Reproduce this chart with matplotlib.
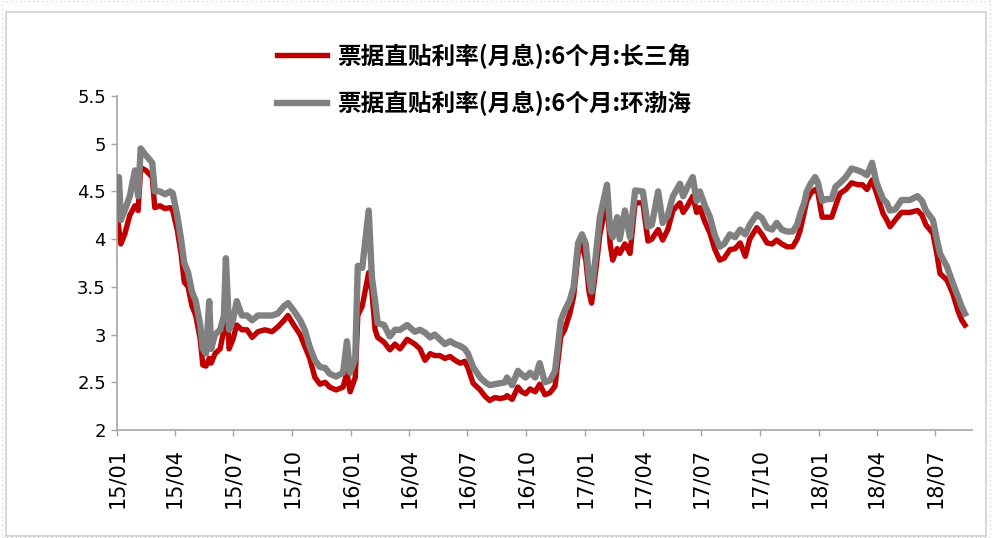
import matplotlib
matplotlib.use("Agg")
import matplotlib.pyplot as plt
import matplotlib.dates as mdates
from matplotlib.patches import Rectangle
import pandas as pd

# 票据直贴利率(月息):6个月, readings
dates = [
    "2015-01-01", "2015-01-04", "2015-01-07", "2015-01-13", "2015-01-21", "2015-01-29",
    "2015-02-03", "2015-02-07", "2015-02-15", "2015-02-25", "2015-03-01", "2015-03-09",
    "2015-03-17", "2015-03-25", "2015-03-29", "2015-04-05", "2015-04-11", "2015-04-16",
    "2015-04-22", "2015-04-28", "2015-05-04", "2015-05-11", "2015-05-15", "2015-05-20",
    "2015-05-25", "2015-05-28", "2015-06-03", "2015-06-11", "2015-06-17", "2015-06-20",
    "2015-06-25", "2015-07-01", "2015-07-07", "2015-07-15", "2015-07-23", "2015-07-31",
    "2015-08-09", "2015-08-20", "2015-08-31", "2015-09-09", "2015-09-19", "2015-09-25",
    "2015-10-04", "2015-10-14", "2015-10-21", "2015-10-29", "2015-11-06", "2015-11-14",
    "2015-11-22", "2015-11-29", "2015-12-09", "2015-12-20", "2015-12-26", "2015-12-31",
    "2016-01-08", "2016-01-12", "2016-01-19", "2016-01-29", "2016-02-03", "2016-02-08",
    "2016-02-12", "2016-02-22", "2016-03-02", "2016-03-10", "2016-03-18", "2016-03-29",
    "2016-04-10", "2016-04-18", "2016-04-26", "2016-05-04", "2016-05-11", "2016-05-19",
    "2016-05-27", "2016-06-04", "2016-06-12", "2016-06-20", "2016-06-27", "2016-07-02",
    "2016-07-10", "2016-07-21", "2016-07-29", "2016-08-05", "2016-08-13", "2016-08-21",
    "2016-08-29", "2016-09-01", "2016-09-09", "2016-09-18", "2016-09-24", "2016-09-30",
    "2016-10-07", "2016-10-15", "2016-10-22", "2016-10-30", "2016-11-07", "2016-11-15",
    "2016-11-19", "2016-11-24", "2016-11-30", "2016-12-08", "2016-12-14", "2016-12-21",
    "2016-12-27", "2017-01-02", "2017-01-07", "2017-01-11", "2017-01-18", "2017-01-24",
    "2017-02-04", "2017-02-09", "2017-02-13", "2017-02-20", "2017-02-24", "2017-03-04",
    "2017-03-12", "2017-03-20", "2017-04-01", "2017-04-09", "2017-04-15", "2017-04-25",
    "2017-05-02", "2017-05-10", "2017-05-18", "2017-05-29", "2017-06-03", "2017-06-10",
    "2017-06-18", "2017-06-24", "2017-06-29", "2017-07-07", "2017-07-15", "2017-07-22",
    "2017-07-30", "2017-08-06", "2017-08-15", "2017-08-23", "2017-08-31", "2017-09-08",
    "2017-09-15", "2017-09-26", "2017-10-04", "2017-10-12", "2017-10-20", "2017-10-27",
    "2017-11-04", "2017-11-12", "2017-11-21", "2017-11-28", "2017-12-03", "2017-12-09",
    "2017-12-13", "2017-12-19", "2017-12-26", "2017-12-30", "2018-01-06", "2018-01-13",
    "2018-01-21", "2018-01-27", "2018-02-03", "2018-02-12", "2018-02-21", "2018-03-03",
    "2018-03-10", "2018-03-17", "2018-03-25", "2018-04-01", "2018-04-11", "2018-04-17",
    "2018-04-22", "2018-04-30", "2018-05-10", "2018-05-23", "2018-06-04", "2018-06-11",
    "2018-06-17", "2018-06-28", "2018-07-04", "2018-07-09", "2018-07-20", "2018-07-29",
    "2018-08-06", "2018-08-12", "2018-08-17",
]

# 长三角
yrd = [
    4.30, 4.10, 3.95, 4.05, 4.25, 4.35, 4.30, 4.75, 4.72, 4.65, 4.33, 4.35,
    4.32, 4.33, 4.30, 4.10, 3.85, 3.55, 3.50, 3.30, 3.20, 2.95, 2.68, 2.67,
    2.75, 2.70, 2.80, 2.85, 3.05, 3.55, 2.85, 2.95, 3.10, 3.05, 3.05, 2.97,
    3.03, 3.05, 3.03, 3.08, 3.15, 3.20, 3.10, 3.00, 2.88, 2.75, 2.55, 2.48,
    2.50, 2.45, 2.42, 2.45, 2.60, 2.40, 2.55, 3.20, 3.30, 3.65, 3.45, 3.05,
    2.97, 2.92, 2.84, 2.90, 2.85, 2.95, 2.90, 2.85, 2.73, 2.80, 2.78, 2.78,
    2.75, 2.77, 2.73, 2.70, 2.72, 2.65, 2.49, 2.42, 2.35, 2.31, 2.34, 2.33,
    2.34, 2.36, 2.32, 2.45, 2.40, 2.38, 2.43, 2.40, 2.48, 2.37, 2.39, 2.46,
    2.70, 2.98, 3.05, 3.22, 3.40, 3.85, 3.95, 3.78, 3.45, 3.33, 3.70, 4.05,
    4.40, 3.95, 3.78, 3.90, 3.85, 3.95, 3.85, 4.38, 4.38, 3.98, 4.00, 4.10,
    3.99, 4.10, 4.30, 4.38, 4.28, 4.35, 4.45, 4.28, 4.33, 4.18, 4.06, 3.90,
    3.78, 3.80, 3.89, 3.90, 3.96, 3.82, 4.00, 4.12, 4.05, 3.96, 3.95, 3.99,
    3.95, 3.92, 3.92, 4.00, 4.10, 4.28, 4.40, 4.48, 4.52, 4.50, 4.23, 4.23,
    4.23, 4.35, 4.48, 4.52, 4.59, 4.57, 4.57, 4.52, 4.62, 4.48, 4.27, 4.20,
    4.13, 4.20, 4.28, 4.28, 4.30, 4.25, 4.15, 4.06, 3.85, 3.64, 3.57, 3.43,
    3.25, 3.15, 3.10,
]

# 环渤海
bohai = [
    4.55, 4.65, 4.20, 4.30, 4.45, 4.72, 4.45, 4.95, 4.88, 4.80, 4.50, 4.50,
    4.47, 4.50, 4.48, 4.25, 4.00, 3.75, 3.65, 3.45, 3.35, 3.10, 2.85, 2.80,
    3.35, 2.85, 3.00, 3.05, 3.20, 3.80, 3.05, 3.15, 3.35, 3.20, 3.20, 3.15,
    3.20, 3.20, 3.20, 3.22, 3.30, 3.33, 3.25, 3.15, 3.05, 2.87, 2.73, 2.66,
    2.65, 2.59, 2.56, 2.60, 2.93, 2.60, 2.75, 3.72, 3.70, 4.30, 3.60, 3.35,
    3.12, 3.10, 2.98, 3.05, 3.05, 3.10, 3.03, 3.05, 3.02, 2.97, 3.00, 2.95,
    2.90, 2.93, 2.90, 2.88, 2.85, 2.80, 2.66, 2.55, 2.50, 2.47, 2.48, 2.49,
    2.50, 2.55, 2.47, 2.62, 2.58, 2.55, 2.60, 2.55, 2.70, 2.50, 2.52, 2.62,
    2.85, 3.15, 3.25, 3.36, 3.50, 3.96, 4.05, 3.95, 3.60, 3.45, 3.85, 4.23,
    4.57, 4.10, 4.02, 4.23, 4.00, 4.30, 4.02, 4.51, 4.50, 4.13, 4.15, 4.50,
    4.17, 4.25, 4.45, 4.58, 4.45, 4.55, 4.65, 4.40, 4.50, 4.35, 4.23, 4.05,
    3.92, 3.95, 4.05, 4.02, 4.10, 4.05, 4.15, 4.26, 4.22, 4.12, 4.10, 4.17,
    4.10, 4.08, 4.08, 4.15, 4.27, 4.38, 4.50, 4.58, 4.65, 4.60, 4.40, 4.42,
    4.42, 4.55, 4.59, 4.65, 4.74, 4.72, 4.70, 4.67, 4.80, 4.59, 4.42, 4.38,
    4.30, 4.31, 4.41, 4.41, 4.45, 4.40, 4.30, 4.20, 4.00, 3.85, 3.71, 3.54,
    3.40, 3.29, 3.22,
]

labels = ["票据直贴利率(月息):6个月:长三角", "票据直贴利率(月息):6个月:环渤海"]
y_ticks = [2, 2.5, 3, 3.5, 4, 4.5, 5, 5.5]

x = pd.to_datetime(dates)

fig = plt.figure(figsize=(9.92, 5.38), dpi=100)
ax = fig.add_axes([117 / 992, 1 - 430 / 538, (972 - 117) / 992, (430 - 96) / 538])

ax.plot(x, yrd, color="#C00000", lw=3.9, label=labels[0], solid_joinstyle="round", zorder=2)
ax.plot(x, bohai, color="#808080", lw=4.6, label=labels[1], solid_joinstyle="round", zorder=3)

ax.set_ylim(2, 5.5)
ax.set_xlim(pd.Timestamp("2015-01-01"), pd.Timestamp("2018-08-28"))
ax.set_yticks(y_ticks)
ax.set_yticklabels([f"{v:g}" for v in y_ticks], family="Liberation Sans Narrow", fontsize=13)

ax.xaxis.set_major_locator(mdates.MonthLocator(bymonth=[1, 4, 7, 10]))
ax.xaxis.set_major_formatter(mdates.DateFormatter("%y/%m"))
for lab in ax.get_xticklabels():
    lab.set_rotation(90)
    lab.set_fontsize(15)
    lab.set_family("DejaVu Sans")

for side in ["top", "right"]:
    ax.spines[side].set_visible(False)
for side in ["left", "bottom"]:
    ax.spines[side].set_color("#A6A6A6")
    ax.spines[side].set_linewidth(1.2)
ax.tick_params(axis="both", direction="out", length=4, width=1.0, color="#A6A6A6")
ax.tick_params(axis="y", pad=4)
ax.tick_params(axis="x", pad=9)

leg = fig.legend(
    loc="upper left", bbox_to_anchor=(256 / 992, 1 - 22 / 538), frameon=False,
    prop={"family": ["Noto Sans CJK SC", "DejaVu Sans"], "size": 17, "weight": "bold"},
    handlelength=2.1, handletextpad=0.45, labelspacing=0.95,
)

# frame around the whole picture
fig.patches.append(Rectangle((6 / 992, 2 / 538), 980 / 992, 524 / 538, transform=fig.transFigure,
                             fill=False, edgecolor="#D0D0D0", lw=1.2))
fig.patches.append(Rectangle((2 / 992, 1 / 538), 988 / 992, 536 / 538, transform=fig.transFigure,
                             fill=False, edgecolor="#C8C8C8", lw=0.8, linestyle=(0, (1, 3))))

fig.savefig("out.png", dpi=100)
